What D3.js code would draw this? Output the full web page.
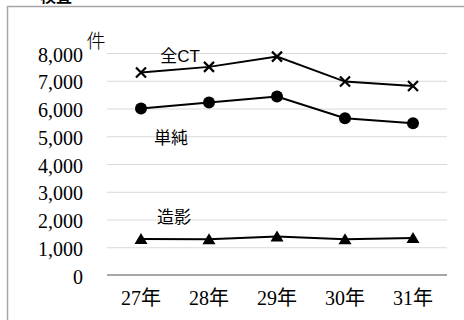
<!DOCTYPE html>
<html lang="ja">
<head>
  <meta charset="UTF-8">
  <title>CT件数の推移</title>
  <style>
    body { margin: 0; background: #fff; }
    svg text { fill: #000; }
  </style>
</head>
<body>
  <svg id="chart" width="464" height="320"></svg>

  <script src="https://d3js.org/d3.v7.min.js"></script>
  <script>
    const years = ["27年", "28年", "29年", "30年", "31年"];
    const allCT = [7300, 7500, 7870, 6970, 6810];
    const simple = [6000, 6220, 6430, 5650, 5470];
    const contrast = [1300, 1290, 1390, 1290, 1330];
    const yTicks = [0, 1000, 2000, 3000, 4000, 5000, 6000, 7000, 8000];

    const margin = { top: 53, right: 17, bottom: 45, left: 107 };
    const width = 464 - margin.left - margin.right;
    const height = 320 - margin.top - margin.bottom;

    const svg = d3.select("#chart");

    // frame of the chart area (right and bottom edges fall outside the picture)
    svg.append("rect")
      .attr("x", 7.5).attr("y", 6.5)
      .attr("width", 480).attr("height", 340)
      .attr("fill", "none")
      .attr("stroke", "#a6a6a6")
      .attr("stroke-width", 1.5);

    // title cut off at the top edge
    svg.append("text")
      .attr("x", 40).attr("y", 2)
      .style("font-family", "'Noto Sans CJK JP'")
      .style("font-size", "16px")
      .style("font-weight", "bold")
      .text("検査");

    const g = svg.append("g")
      .attr("transform", `translate(${margin.left}, ${margin.top})`);

    const x = d3.scaleBand().domain(years).range([0, width]);
    const y = d3.scaleLinear().domain([0, 8000]).range([height, 0]);
    const cx = d => x(d) + x.bandwidth() / 2;

    const yAxis = g.append("g")
      .call(d3.axisLeft(y)
        .tickValues(yTicks)
        .tickFormat(d3.format(","))
        .tickSize(-width)
        .tickPadding(24));
    yAxis.select(".domain").remove();
    yAxis.selectAll(".tick line")
      .attr("stroke", "#d9d9d9")
      .attr("stroke-width", 1);
    yAxis.selectAll(".tick text")
      .attr("dy", "0.4em")
      .style("font-family", "'Liberation Serif', serif")
      .style("font-weight", "normal")
      .style("font-size", "20px");

    // baseline
    g.append("line")
      .attr("x1", 0).attr("x2", width)
      .attr("y1", y(0)).attr("y2", y(0))
      .attr("stroke", "#a6a6a6")
      .attr("stroke-width", 2);

    const xAxis = g.append("g")
      .attr("transform", `translate(0, ${height})`)
      .call(d3.axisBottom(x).tickSize(0).tickPadding(12));
    xAxis.select(".domain").remove();
    xAxis.selectAll(".tick text")
      .attr("dy", "0.9em")
      .style("font-family", "'Liberation Serif', 'Noto Sans CJK JP', serif")
      .style("font-weight", "normal")
      .style("font-size", "20px");

    // unit label
    svg.append("text")
      .attr("x", 96).attr("y", 48)
      .attr("text-anchor", "middle")
      .style("font-family", "'Noto Sans CJK JP'")
      .style("font-weight", "300")
      .style("font-size", "19px")
      .text("件");

    const line = d3.line()
      .x((d, i) => cx(years[i]))
      .y(d => y(d));

    [allCT, simple, contrast].forEach(s => {
      g.append("path")
        .datum(s)
        .attr("d", line)
        .attr("fill", "none")
        .attr("stroke", "#000")
        .attr("stroke-width", 2);
    });

    // 全CT: cross markers
    g.selectAll(".cross")
      .data(allCT)
      .enter()
      .append("path")
      .attr("class", "cross")
      .attr("transform", (d, i) => `translate(${cx(years[i])}, ${y(d)})`)
      .attr("d", "M-5,-5L5,5M-5,5L5,-5")
      .attr("stroke", "#000")
      .attr("stroke-width", 2.2);

    // 単純: circle markers
    g.selectAll(".dot")
      .data(simple)
      .enter()
      .append("circle")
      .attr("class", "dot")
      .attr("cx", (d, i) => cx(years[i]))
      .attr("cy", d => y(d))
      .attr("r", 6)
      .attr("fill", "#000");

    // 造影: triangle markers
    g.selectAll(".tri")
      .data(contrast)
      .enter()
      .append("path")
      .attr("class", "tri")
      .attr("transform", (d, i) => `translate(${cx(years[i])}, ${y(d)})`)
      .attr("d", "M0,-6L6.5,5L-6.5,5Z")
      .attr("fill", "#000");

    // series labels
    const labels = [
      { text: "全CT", x: 180, y: 62 },
      { text: "単純", x: 171, y: 144 },
      { text: "造影", x: 174, y: 223 }
    ];
    svg.selectAll(".series-label")
      .data(labels)
      .enter()
      .append("text")
      .attr("class", "series-label")
      .attr("x", d => d.x)
      .attr("y", d => d.y)
      .attr("text-anchor", "middle")
      .style("font-family", "'Liberation Sans', 'Noto Sans CJK JP', sans-serif")
      .style("font-size", "17px")
      .text(d => d.text);
  </script>
</body>
</html>
